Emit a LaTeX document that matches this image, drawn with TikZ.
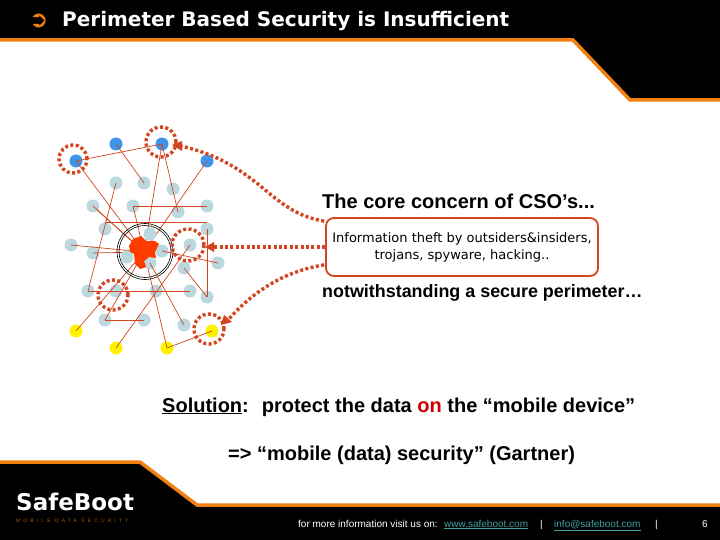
\documentclass[tikz,border=0pt]{standalone}
\usepackage{fontspec}
\setmainfont{Liberation Sans}
\newfontfamily\verdana{DejaVu Sans}
\newfontfamily\tagfont[LetterSpace=62]{Liberation Sans}
\usepackage{tikz}
\usetikzlibrary{arrows.meta, positioning, calc}

\definecolor{bandorange}{HTML}{F08010}
\definecolor{linkred}{HTML}{D2451E}
\definecolor{coreorange}{HTML}{FF3C00}
\definecolor{hostgray}{HTML}{BBD8DE}
\definecolor{hostblue}{HTML}{3F94EC}
\definecolor{hostyellow}{HTML}{FFF200}
\definecolor{linkteal}{HTML}{3FA0A0}

\begin{document}
\begin{tikzpicture}[x=1pt, y=-1pt,
  host/.style={circle, inner sep=0pt, minimum size=13pt},
  gray host/.style={host, fill=hostgray},
  blue host/.style={host, fill=hostblue},
  yellow host/.style={host, fill=hostyellow},
  wire/.style={draw=linkred, line width=0.7pt},
  dotring/.style={circle, draw=linkred, line width=3.4pt, dash pattern=on 3pt off 2.4pt, inner sep=0pt},
  dotarrow/.style={draw=linkred, line width=3.4pt, dash pattern=on 3pt off 2.4pt},
  tip/.style={fill=linkred, draw=none},
  headline/.style={font=\bfseries\fontsize{17.9}{20}\selectfont, anchor=base west, inner sep=0pt, text=black},
  footnote/.style={font=\fontsize{10}{11}\selectfont, anchor=base west, inner sep=0pt, text=white}
]
  \useasboundingbox (0,0) rectangle (720,540);
  \fill[white] (0,0) rectangle (720,540);

  % Header band
  \fill[black] (0,0) -- (720,0) -- (720,100) -- (630,100) -- (573,40) -- (0,40) -- cycle;
  \draw[bandorange, line width=3.5pt] (0,40) -- (573,40) -- (630,100) -- (720,100);
  \node[anchor=base west, inner sep=0pt, text=bandorange, font=\verdana\fontsize{23}{24}\selectfont] (bullet) at (29,28) {➲};
  \node[anchor=base west, inner sep=0pt, text=white, font=\verdana\bfseries\fontsize{20}{22}\selectfont] (title) at (62,27) {Perimeter Based Security is Insufficient};

  % Footer band
  \fill[black] (0,540) -- (720,540) -- (720,505) -- (197,505) -- (140,462) -- (0,462) -- cycle;
  \draw[bandorange, line width=3.5pt] (0,462) -- (140,462) -- (197,505) -- (720,505);
  \node[anchor=base west, inner sep=0pt, text=white, font=\verdana\bfseries\fontsize{23}{24}\selectfont] (logo) at (16,510) {SafeBoot};
  \node[anchor=base west, inner sep=0pt, text=bandorange!70!black, font=\tagfont\fontsize{5}{6}\selectfont] (tagline) at (16,522) {MOBILE DATA SECURITY};
  \node[footnote] (more) at (298,527) {for more information visit us on:};
  \node[footnote, text=linkteal] (site) at (444,527) {\underline{www.safeboot.com}};
  \node[footnote] (barone) at (540,527) {|};
  \node[footnote, text=linkteal] (mail) at (554,527) {\underline{info@safeboot.com}};
  \node[footnote] (bartwo) at (655,527) {|};
  \node[footnote] (page) at (702,527) {6};

  % Hosts
  \foreach \name/\px/\py in {b1/76/161, b2/116/144, b3/162/144, b4/207/161}
    \node[blue host] (\name) at (\px,\py) {};
  \foreach \name/\px/\py in {g1/116/183, g2/144/183, g3/173/189, g4/93/206, g5/133/206,
      g6/178/212, g7/207/206, g8/105/229, g9/207/229, g11/71/245, g12/93/253,
      g16/190/245, g17/218/263, g18/184/268,
      g19/88/291, g20/116/291, g21/156/291, g22/190/291, g23/207/297, g24/105/320,
      g25/144/320, g26/184/325}
    \node[gray host] (\name) at (\px,\py) {};
  \foreach \name/\px/\py in {y1/76/331, y2/116/348, y3/167/348, y4/212/331}
    \node[yellow host] (\name) at (\px,\py) {};

  % Links
  \coordinate (core) at (144,252);
  \foreach \from/\to in {b1/b3, b2/g2, g1/g19, g19/g22, g5/g7, b3/g6, g9/g23,
      g18/g23, g16/y2, g24/g25, y3/y4}
    \draw[wire] (\from.center) -- (\to.center);
  \foreach \from in {b1, g4, g5, b3, b4, g11, g12, y1, g24, y3}
    \draw[wire] (\from.center) -- (core);
  \draw[wire] (97,210) -- (core);
  \draw[wire] (g8.north) -- (g9.north);

  % Protected core
  \draw[black, line width=0.6pt] (145,251.5) circle (28pt) circle (26pt);
  \foreach \name/\px/\py in {g10/150/234, g13/127/257, g14/162/251, g15/150/263}
    \node[gray host] (\name) at (\px,\py) {};
  \fill[coreorange] (129,246) -- (133,239) -- (141,236) -- (146,241) -- (155,241) -- (159,244)
    -- (157,248) -- (155,252) -- (156,258) -- (149,257) -- (144,261) -- (146,267) -- (140,269) -- (135,264)
    -- (134,254) -- (130,252) -- cycle;
  \foreach \from/\to in {g14/g17, g15/g26}
    \draw[wire] (\from.center) -- (\to.center);

  % Rings
  \foreach \name/\px/\py/\rad in {ra/73/159/14, rb/161/142/15, rc/188/245/16, rd/113/295/15, re/209/329/15}
    \draw[dotring] (\px,\py) circle (\rad pt);

  % Callout box
  \node[draw=linkred, line width=1.8pt, rounded corners=8pt, minimum width=272pt, minimum height=58pt,
    inner sep=0pt, align=center, font=\verdana\fontsize{13}{17}\selectfont] (box) at (462,247)
    {Information theft by outsiders\&insiders,\\trojans, spyware, hacking..};

  % Texts
  \node[headline, font=\bfseries\fontsize{20}{22}\selectfont] (core text) at (322,208) {The core concern of CSO’s...};
  \node[headline] (perimeter) at (322,297) {notwithstanding a secure perimeter…};
  \node[headline, font=\bfseries\fontsize{20}{22}\selectfont] (solution) at (162,412)
    {\underline{Solution}: \ protect the data \textcolor{red!80!black}{on} the “mobile device”};
  \node[headline, font=\bfseries\fontsize{20}{22}\selectfont] (gartner) at (228,460)
    {=> “mobile (data) security” (Gartner)};

  % Dotted arrows
  \coordinate (ta) at (181,146);
  \coordinate (tb) at (213,247);
  \coordinate (tc) at (228,320);
  \draw[dotarrow] (box.north west) ++(-1,4) .. controls (268,212) and (262,165) .. (ta);
  \draw[dotarrow] (box.west) -- (tb);
  \draw[dotarrow] (box.south west) ++(-1,-12) .. controls (280,272) and (250,295) .. (tc);
  \fill[tip] (172,145) -- (182,141) -- (182,151) -- cycle;
  \fill[tip] (205,247) -- (214,242) -- (214,252) -- cycle;
  \fill[tip] (221,325) -- (224,315) -- (232,322) -- cycle;
\end{tikzpicture}
\end{document}
